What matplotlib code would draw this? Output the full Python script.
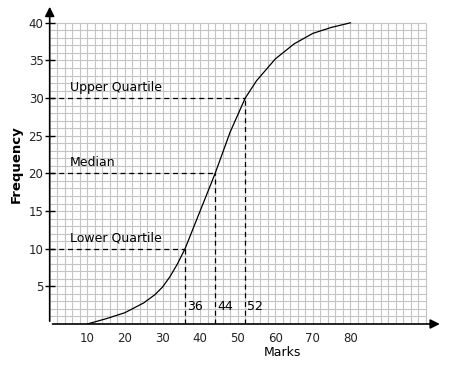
import numpy as np
import matplotlib
matplotlib.use("Agg")
from matplotlib import pyplot as plt

# cumulative frequency curve
marks = [10, 15, 20, 25, 28, 30, 32, 34, 36, 40, 44, 48, 52, 55, 60, 65, 70, 75, 80]
freq = [0, 0.7, 1.5, 2.8, 3.9, 4.9, 6.3, 8.0, 10, 15, 20, 25.5, 30, 32.3, 35.2, 37.2, 38.6, 39.4, 40]

quartile_names = ["Lower Quartile", "Median", "Upper Quartile"]
quartile_marks = [36, 44, 52]
quartile_freq = [10, 20, 30]

x_ticks = [10, 20, 30, 40, 50, 60, 70, 80]
y_ticks = [5, 10, 15, 20, 25, 30, 35, 40]

fig = plt.figure(figsize=(4.51, 3.69), dpi=100)
ax = fig.add_axes([49.7 / 451, 45 / 369, (3.76 * 105) / 451, (7.53 * 42.5) / 369])
ax.set_xlim(0, 105)
ax.set_ylim(0, 42.5)
for s in ax.spines.values():
    s.set_visible(False)

# graph paper
grid_col = "#c4c4c4"
ax.vlines(np.arange(2, 101, 2), 0, 40, color=grid_col, lw=0.8, zorder=1)
ax.hlines(np.arange(1, 41, 1), 0, 100, color=grid_col, lw=0.8, zorder=1)

# axes with arrows
ax.annotate("", xy=(104.5, 0), xytext=(0, 0),
            arrowprops=dict(arrowstyle="-|>", color="black", lw=1.2, mutation_scale=14),
            annotation_clip=False)
ax.annotate("", xy=(0, 42.5), xytext=(0, 0),
            arrowprops=dict(arrowstyle="-|>", color="black", lw=1.2, mutation_scale=14),
            annotation_clip=False)

ax.plot(marks, freq, color="black", lw=0.9, zorder=3)

for name, qx, qy in zip(quartile_names, quartile_marks, quartile_freq):
    ax.plot([0, qx], [qy, qy], color="black", lw=0.9, ls=(0, (4, 3)), zorder=3)
    ax.plot([qx, qx], [0, qy], color="black", lw=0.9, ls=(0, (4, 3)), zorder=3)
    ax.text(5.3, qy + 0.6, name, fontsize=9, ha="left", va="bottom")
    ax.text(qx + 0.5, 2.3, str(qx), fontsize=9, ha="left", va="center")

ax.set_xticks(x_ticks)
ax.set_yticks(y_ticks)
ax.tick_params(axis="x", length=0, pad=6, labelsize=8.5)
ax.tick_params(axis="y", direction="inout", length=7, width=1, labelsize=8.5, pad=1)
for lab in ax.get_xticklabels() + ax.get_yticklabels():
    lab.set_family(["DejaVu Sans Condensed", "Liberation Sans Narrow", "DejaVu Sans"])
    lab.set_color("#222222")

ax.set_xlabel("Marks", fontsize=9, labelpad=2)
ax.xaxis.set_label_coords(0.59, -0.07)
ax.set_ylabel("Frequency", fontsize=9.5, fontweight="bold", labelpad=4)

fig.savefig("out.png", dpi=100)
